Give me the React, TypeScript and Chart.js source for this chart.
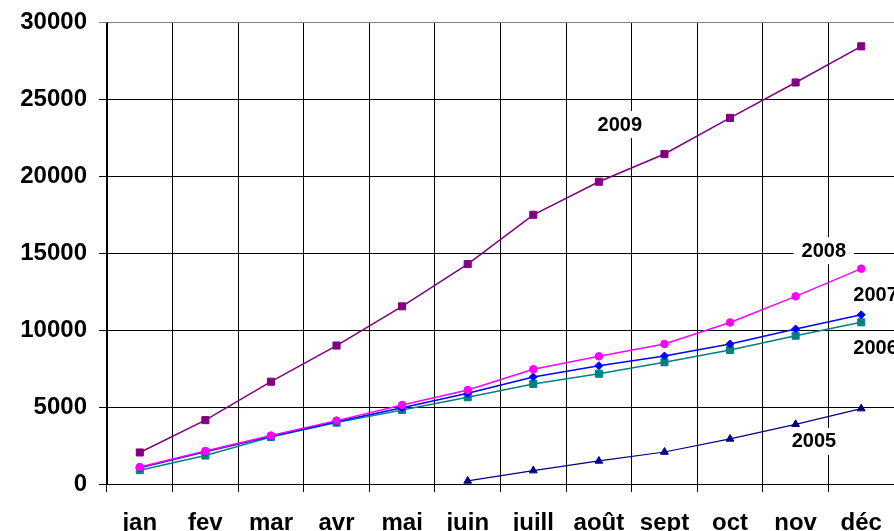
import React, { useEffect, useRef } from "react";
import { Chart, registerables } from "chart.js";

Chart.register(...registerables);

const months = ["jan", "fev", "mar", "avr", "mai", "juin", "juill", "août", "sept", "oct", "nov", "déc"];
const yTicks = [0, 5000, 10000, 15000, 20000, 25000, 30000];

const s2009 = [2050, 4150, 6650, 9000, 11550, 14300, 17500, 19650, 21450, 23800, 26100, 28450];
const s2008 = [1100, 2150, 3150, 4120, 5140, 6110, 7460, 8300, 9100, 10500, 12200, 14000];
const s2007 = [1050, 2100, 3100, 4050, 4960, 5900, 6960, 7690, 8320, 9100, 10080, 11000];
const s2006 = [900, 1850, 3050, 3990, 4810, 5640, 6500, 7170, 7910, 8710, 9640, 10510];
const s2005 = [null, null, null, null, null, 200, 870, 1500, 2080, 2930, 3880, 4900];

const labelTexts = ["2009", "2008", "2007", "2006", "2005"];
const labelIdx = [7.32, 10.43, 10.88, 10.88, 10.28];
const labelVals = [23400, 15200, 12350, 8850, 2800];
const labelAlign = ["center", "center", "left", "left", "center"];

const FONT = "'Liberation Sans', Arial, Helvetica, sans-serif";

const seriesLabelPlugin = {
  id: "seriesLabels",
  beforeDatasetsDraw(chart: any) {
    const { ctx, scales } = chart;
    const xs = scales.x;
    const ys = scales.y;
    ctx.save();
    ctx.font = `bold 20px ${FONT}`;
    ctx.textBaseline = "middle";
    labelTexts.forEach((t, i) => {
      const px = xs.getPixelForValue(labelIdx[i]);
      const py = ys.getPixelForValue(labelVals[i]);
      const w = ctx.measureText(t).width;
      const left = labelAlign[i] === "left" ? px : px - w / 2;
      ctx.fillStyle = "#ffffff";
      ctx.fillRect(left - 8, py - 13, w + 16, 27);
      ctx.fillStyle = "#000000";
      ctx.textAlign = "left";
      ctx.fillText(t, left, py + 1);
    });
    ctx.restore();
  },
};

export default function App() {
  const ref = useRef<HTMLCanvasElement | null>(null);

  useEffect(() => {
    document.body.style.margin = "0";
    document.body.style.overflow = "hidden";
    const canvas = ref.current;
    if (!canvas) return;
    const chart = new Chart(canvas, {
      type: "line",
      data: {
        labels: months,
        datasets: [
          {
            label: "2009",
            data: s2009,
            borderColor: "#800080",
            backgroundColor: "#800080",
            borderWidth: 1.5,
            pointStyle: "rect",
            pointRadius: 5,
            pointBorderWidth: 1,
          },
          {
            label: "2008",
            data: s2008,
            borderColor: "#ff00ff",
            backgroundColor: "#ff00ff",
            borderWidth: 1.5,
            pointStyle: "circle",
            pointRadius: 3.8,
            pointBorderWidth: 1,
          },
          {
            label: "2007",
            data: s2007,
            borderColor: "#0000ff",
            backgroundColor: "#0000ff",
            borderWidth: 1.5,
            pointStyle: "rectRot",
            pointRadius: 4,
            pointBorderWidth: 1,
          },
          {
            label: "2006",
            data: s2006,
            borderColor: "#008080",
            backgroundColor: "#008080",
            borderWidth: 1.5,
            pointStyle: "rect",
            pointRadius: 5,
            pointBorderWidth: 1,
          },
          {
            label: "2005",
            data: s2005,
            borderColor: "#000080",
            backgroundColor: "#000080",
            borderWidth: 1.2,
            pointStyle: "triangle",
            pointRadius: 4.5,
            pointBorderWidth: 1,
            spanGaps: false,
          },
        ],
      },
      options: {
        animation: false,
        responsive: false,
        maintainAspectRatio: false,
        layout: { padding: { top: 22.5, right: 1, left: 0, bottom: 0 } },
        plugins: {
          legend: { display: false },
          tooltip: { enabled: false },
        },
        elements: { line: { tension: 0 } },
        scales: {
          x: {
            type: "category",
            offset: true,
            grid: {
              offset: true,
              color: "#000000",
              lineWidth: 1,
              drawTicks: true,
              tickLength: 8,
            },
            border: { color: "#000000", width: 1 },
            ticks: {
              color: "#000000",
              padding: 17,
              maxRotation: 0,
              autoSkip: false,
              font: { family: FONT, size: 24, weight: "bold" },
            },
            afterFit(scale: any) {
              scale.height = 47;
              scale.paddingLeft = 0;
              scale.paddingRight = 0;
            },
          },
          y: {
            min: 0,
            max: 30000,
            afterBuildTicks(scale: any) {
              scale.ticks = yTicks.map((v) => ({ value: v }));
            },
            grid: {
              color: (c: any) => (c.tick && c.tick.value === 30000 ? "#808080" : "#000000"),
              lineWidth: 1,
              drawTicks: true,
              tickLength: 8,
            },
            border: { color: "#000000", width: 1 },
            ticks: {
              color: "#000000",
              padding: 12,
              font: { family: FONT, size: 24, weight: "bold" },
              callback: (v: any) => String(v),
            },
            afterFit(scale: any) {
              scale.width = 107;
              scale.paddingTop = 0;
              scale.paddingBottom = 0;
            },
          },
        },
      },
      plugins: [seriesLabelPlugin],
    });
    return () => chart.destroy();
  }, []);

  return (
    <div style={{ position: "absolute", left: 0, top: 0, width: 900, height: 531, background: "#fff" }}>
      <canvas ref={ref} width={900} height={531} style={{ display: "block", width: 900, height: 531 }} />
    </div>
  );
}
